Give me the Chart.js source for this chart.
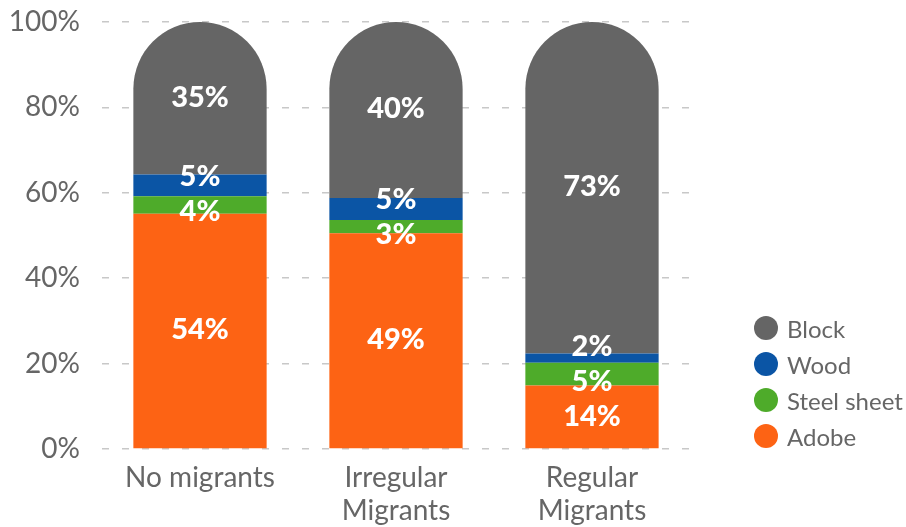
<!DOCTYPE html>
<html>
<head>
<meta charset="utf-8">
<script src="https://cdn.jsdelivr.net/npm/chart.js@4.4.0/dist/chart.umd.min.js"></script>
<style>
  html, body { margin: 0; padding: 0; background: #fff; }
  #wrap { position: relative; width: 906px; height: 527px; }
  #legend { position: absolute; left: 754px; top: 310px; font-family: Lato, sans-serif; font-size: 24px; color: #666; }
  .item { display: flex; align-items: center; height: 36px; }
  .dot { width: 24px; height: 24px; border-radius: 50%; margin-right: 9px; }
</style>
</head>
<body>
<div id="wrap">
  <canvas id="chart" width="906" height="527"></canvas>
  <div id="legend"></div>
</div>
<script>
  // housing material by migration status (% of households)
  const groups = ["No migrants", ["Irregular", "Migrants"], ["Regular", "Migrants"]];
  const adobe = [54, 49, 14];
  const steelSheet = [4, 3, 5];
  const wood = [5, 5, 2];
  const block = [35, 40, 73];
  const yTicks = [0, 20, 40, 60, 80, 100];

  const textGrey = "#666666";
  const font = "Lato, sans-serif";

  // each bar is drawn as its share of the group total, so stacks reach 100%
  const totals = groups.map((g, i) => adobe[i] + steelSheet[i] + wood[i] + block[i]);
  const share = (arr) => arr.map((v, i) => v / totals[i] * 100);

  const series = [
    { label: "Adobe", values: adobe, color: "#fd6314" },
    { label: "Steel sheet", values: steelSheet, color: "#4eab2a" },
    { label: "Wood", values: wood, color: "#0b55a5" },
    { label: "Block", values: block, color: "#656565" }
  ];

  const datasets = series.map((s, k) => ({
    label: s.label,
    data: share(s.values),
    raw: s.values,
    backgroundColor: s.color,
    borderWidth: 0,
    borderSkipped: "bottom",
    borderRadius: k === series.length - 1
      ? { topLeft: 70, topRight: 70, bottomLeft: 0, bottomRight: 0 }
      : 0,
    barPercentage: 0.68,
    categoryPercentage: 1
  }));

  // white value labels inside each segment, nudged apart when segments are thin
  const segmentLabels = {
    id: "segmentLabels",
    afterDatasetsDraw(chart) {
      const ctx = chart.ctx;
      const minGap = 35;
      ctx.save();
      ctx.fillStyle = "#ffffff";
      ctx.font = "900 29px " + font;
      ctx.textAlign = "center";
      ctx.textBaseline = "middle";
      groups.forEach((g, i) => {
        const items = chart.data.datasets.map((ds, d) => {
          const el = chart.getDatasetMeta(d).data[i];
          return { x: el.x, y: (el.y + el.base) / 2 - 1, text: ds.raw[i] + "%" };
        });
        items.sort((a, b) => a.y - b.y);
        for (let pass = 0; pass < 10; pass++) {
          for (let j = 0; j < items.length - 1; j++) {
            const d = items[j + 1].y - items[j].y;
            if (d < minGap) {
              const push = (minGap - d) / 2;
              items[j].y -= push;
              items[j + 1].y += push;
            }
          }
        }
        items.forEach(it => ctx.fillText(it.text, it.x, it.y));
      });
      ctx.restore();
    }
  };

  const chart = new Chart(document.getElementById("chart"), {
    type: "bar",
    data: { labels: groups, datasets },
    options: {
      responsive: false,
      animation: false,
      devicePixelRatio: 1,
      layout: { padding: { left: 10, right: 216, top: 22, bottom: 0 } },
      plugins: {
        legend: { display: false },
        tooltip: { enabled: false }
      },
      scales: {
        x: {
          stacked: true,
          grid: { display: false },
          border: { display: false },
          afterFit: (scale) => { scale.paddingLeft = 0; scale.paddingRight = 0; scale.height = 78; },
          ticks: { color: textGrey, font: { family: font, size: 28, lineHeight: 1.18 }, padding: 4, maxRotation: 0 }
        },
        y: {
          stacked: true,
          min: 0,
          max: 100,
          afterBuildTicks: (scale) => { scale.ticks = yTicks.map(v => ({ value: v })); },
          afterFit: (scale) => { scale.paddingTop = 0; scale.paddingBottom = 0; scale.width = 92; },
          ticks: { color: textGrey, font: { family: font, size: 28 }, padding: 22, callback: v => v + "%" },
          grid: { color: "#c8c8c8", lineWidth: 1.5, drawTicks: false },
          border: { display: false, dash: [7, 13] }
        }
      }
    },
    plugins: [segmentLabels]
  });

  // legend, top-down in stack order
  const legendEl = document.getElementById("legend");
  chart.data.datasets.slice().reverse().forEach(ds => {
    const row = document.createElement("div");
    row.className = "item";
    const dot = document.createElement("span");
    dot.className = "dot";
    dot.style.background = ds.backgroundColor;
    const txt = document.createElement("span");
    txt.textContent = ds.label;
    row.appendChild(dot);
    row.appendChild(txt);
    legendEl.appendChild(row);
  });
</script>
</body>
</html>
